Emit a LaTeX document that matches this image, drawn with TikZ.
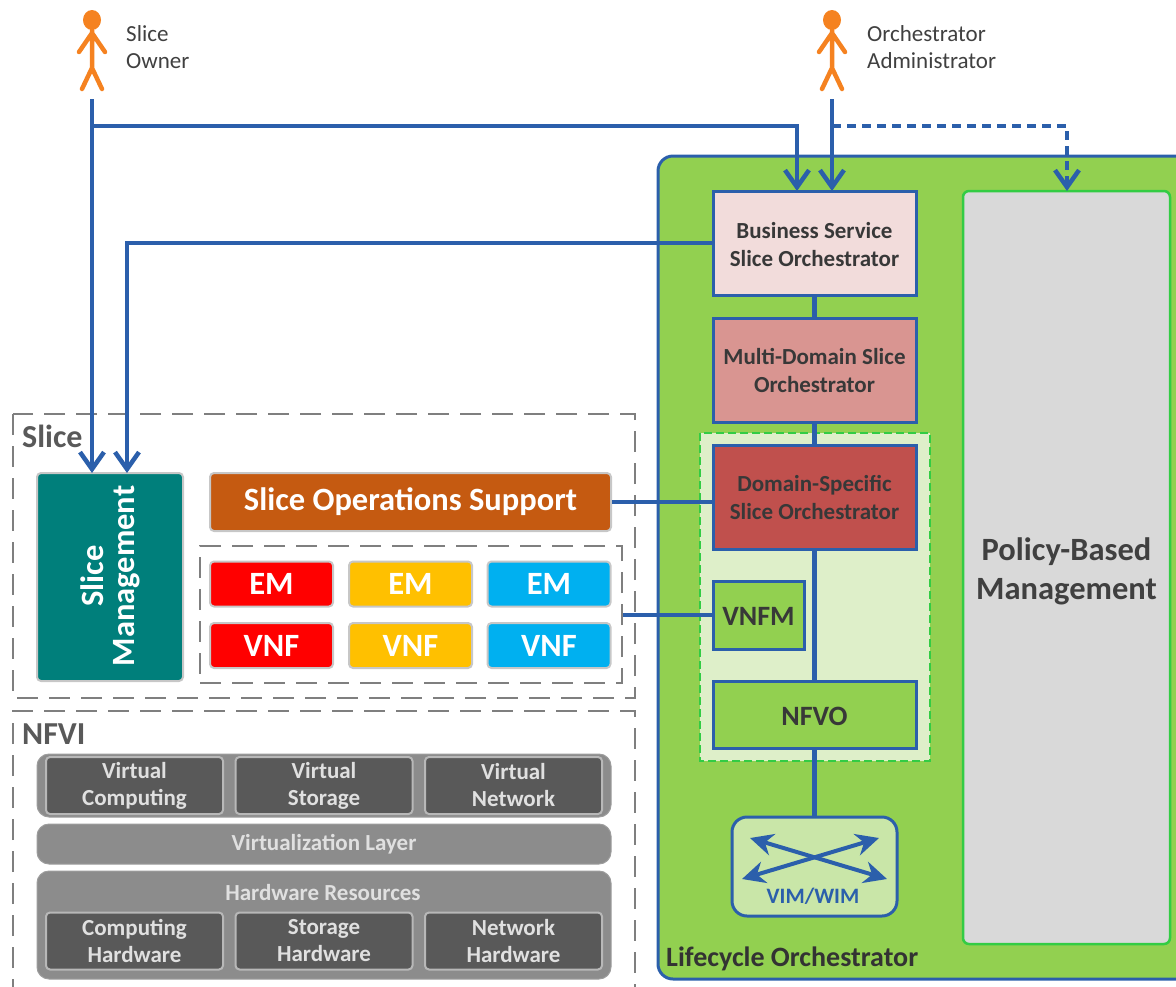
\documentclass[tikz,border=0pt]{standalone}
\usepackage{fontspec}
\setmainfont{Carlito}
\usetikzlibrary{arrows.meta}

\definecolor{linkblue}{HTML}{2B5FAB}
\definecolor{lifegreen}{HTML}{92D050}
\definecolor{palegreen}{HTML}{DEEFC9}
\definecolor{vimgreen}{HTML}{C9E6A8}
\definecolor{bordergreen}{HTML}{33CC44}
\definecolor{actororange}{HTML}{F58220}
\definecolor{dashgray}{HTML}{7F7F7F}
\definecolor{textgray}{HTML}{595959}
\definecolor{layergray}{HTML}{8C8C8C}
\definecolor{cellgray}{HTML}{595959}
\definecolor{businesspink}{HTML}{F2DCDB}
\definecolor{multirose}{HTML}{D99591}
\definecolor{domainred}{HTML}{C0504D}
\definecolor{opsorange}{HTML}{C55A11}
\definecolor{mgmtteal}{HTML}{007F7B}
\definecolor{vnfyellow}{HTML}{FFC000}
\definecolor{vnfblue}{HTML}{00B0F0}

\tikzset{
    link/.style={linkblue, line width=4.5pt},
    linkarrow/.style={link, -{Straight Barb[length=17pt,width=24pt,line width=4.5pt]}},
    orchbox/.style={draw=linkblue, line width=3pt, inner sep=0pt, align=center, text=black!78,
        font=\fontsize{23}{28}\selectfont\bfseries},
    tenant/.style={draw=black!22, line width=2pt, rounded corners=4pt, inner sep=0pt, text=white,
        minimum width=123pt, minimum height=45pt, font=\fontsize{32.5}{34}\selectfont\bfseries},
    layer/.style={fill=layergray, draw=layergray!85, line width=1pt, rounded corners=12pt, inner sep=0pt,
        minimum width=574pt, text=white!88!black, font=\fontsize{23}{26}\selectfont\bfseries},
    cell/.style={fill=cellgray, draw=white!72!black, line width=2pt, rounded corners=4pt, inner sep=0pt,
        minimum width=177pt, minimum height=57pt, align=center, text=white!88!black,
        font=\fontsize{23}{27}\selectfont\bfseries},
    region/.style={draw=dashgray, line width=2pt, dash pattern=on 21pt off 11pt},
    regionname/.style={anchor=west, inner sep=0pt, text=textgray, font=\fontsize{32}{34}\selectfont\bfseries},
    actorname/.style={anchor=west, inner sep=0pt, align=left, text=black!75, font=\fontsize{23}{27}\selectfont},
    mgmtname/.style={rotate=90, inner sep=0pt, text=white, font=\fontsize{32.5}{36}\selectfont\bfseries},
}

\begin{document}
\begin{tikzpicture}[x=1pt, y=-1pt]
    \useasboundingbox (0,0) rectangle (1176,986);
    \clip (0,0) rectangle (1176,986);

    % actors
    \foreach \x in {92,832} {
        \fill[actororange] (\x,20) ellipse (9pt and 10pt);
        \draw[actororange, line width=4.5pt, line cap=round, line join=round]
            (\x-13,52) -- (\x,33) -- (\x+13,52)
            (\x,30) -- (\x,68)
            (\x-10,89) -- (\x,68) -- (\x+10,89);
    }
    \node[actorname] (ownername) at (126,47) {Slice\\Owner};
    \node[actorname] (adminname) at (867,47) {Orchestrator\\Administrator};

    % lifecycle orchestrator
    \filldraw[fill=lifegreen, draw=linkblue, line width=3pt, rounded corners=15pt] (658,156) rectangle (1200,979);
    \node[anchor=west, inner sep=0pt, text=black!80, font=\fontsize{28}{30}\selectfont\bfseries] (lifename) at (666,959) {Lifecycle Orchestrator};
    \node[fill=black!15, draw=bordergreen, line width=2.5pt, rounded corners=6pt, inner sep=0pt, minimum width=207pt, minimum height=753pt] (policy) at (1066.5,567.5) {};
    \node[inner sep=0pt, align=center, text=black!75, font=\fontsize{32.5}{39}\selectfont\bfseries] (policyname) at (1066.5,571.5) {Policy-Based\\Management};
    \filldraw[fill=palegreen, draw=bordergreen, line width=2.5pt, dash pattern=on 8pt off 4pt] (700,433) rectangle (930,761);

    \node[orchbox, fill=businesspink, minimum width=203pt, minimum height=104pt, text height=47pt] (business) at (814.5,243) {Business Service\\Slice Orchestrator};
    \node[orchbox, fill=multirose, minimum width=203pt, minimum height=104pt, text height=45pt] (multidomain) at (814.5,370) {Multi-Domain Slice\\Orchestrator};
    \node[orchbox, fill=domainred, minimum width=203pt, minimum height=104pt, text height=45pt] (domain) at (814.5,497) {Domain-Specific\\Slice Orchestrator};
    \node[orchbox, fill=lifegreen, minimum width=91pt, minimum height=68pt, text height=20pt, font=\fontsize{28}{30}\selectfont\bfseries] (vnfm) at (758.5,615) {VNFM};
    \node[orchbox, fill=lifegreen, minimum width=203pt, minimum height=67pt, text height=23pt, font=\fontsize{28}{30}\selectfont\bfseries] (nfvo) at (814.5,714.5) {NFVO};
    \node[fill=vimgreen, draw=linkblue, line width=3pt, rounded corners=15pt, inner sep=0pt, minimum width=165pt, minimum height=99pt] (vim) at (814.5,866.5) {};
    \node[inner sep=0pt, text=linkblue, font=\fontsize{22}{24}\selectfont\bfseries] (vimname) at (813,896) {VIM/WIM};
    \coordinate (vimnw) at (750,838);
    \coordinate (vimse) at (887,879);
    \coordinate (vimsw) at (742,879);
    \coordinate (vimne) at (879,838);
    \draw[linkblue, line width=4pt, {Stealth[length=23pt,width=22pt]}-{Stealth[length=23pt,width=22pt]}] (vimnw) -- (vimse);
    \draw[linkblue, line width=4pt, {Stealth[length=23pt,width=22pt]}-{Stealth[length=23pt,width=22pt]}] (vimsw) -- (vimne);

    % slice
    \draw[region] (13,414) rectangle (635,698);
    \node[regionname] (slicename) at (22,436) {Slice};
    \node[fill=mgmtteal, draw=black!22, line width=2pt, rounded corners=4pt, inner sep=0pt, minimum width=146pt, minimum height=208pt] (slicemgmt) at (110,577) {};
    \node[mgmtname] (slicemgmtfirst) at (92,576) {Slice};
    \node[mgmtname] (slicemgmtsecond) at (127,576) {Management};
    \node[fill=opsorange, draw=black!22, line width=2pt, rounded corners=4pt, inner sep=0pt, minimum width=401pt, minimum height=58pt,
        text=white, font=\fontsize{32.5}{36}\selectfont\bfseries] (operations) at (410.5,502) {Slice Operations Support};
    \node[draw=dashgray, line width=2pt, dash pattern=on 21pt off 11pt, inner sep=0pt, minimum width=422pt, minimum height=137pt] (functions) at (411,614.5) {};

    \node[tenant, fill=red] (emred) at (271.5,584) {EM};
    \node[tenant, fill=vnfyellow] (emyellow) at (410.5,584) {EM};
    \node[tenant, fill=vnfblue] (emblue) at (549,584) {EM};
    \node[tenant, fill=red] (vnfred) at (271.5,645.5) {VNF};
    \node[tenant, fill=vnfyellow] (vnfamber) at (410.5,645.5) {VNF};
    \node[tenant, fill=vnfblue] (vnfcyan) at (549,645.5) {VNF};

    % nfvi
    \draw[region] (13,1000) -- (13,711) -- (635,711) -- (635,1000);
    \node[regionname] (nfviname) at (22,734) {NFVI};
    \node[layer, minimum height=63pt] (virtual) at (324,785.5) {};
    \node[cell] (vcomputing) at (134.5,785.5) {Virtual\\Computing};
    \node[cell] (vstorage) at (324,785.5) {Virtual\\Storage};
    \node[cell] (vnetwork) at (513.5,785.5) {Virtual\\Network};
    \node[layer, minimum height=40pt] (virtualization) at (324,844) {Virtualization Layer};
    \node[layer, minimum height=108pt] (hardware) at (324,925) {};
    \node[inner sep=0pt, text=white!88!black, font=\fontsize{23}{26}\selectfont\bfseries] (hardwarename) at (323,893) {Hardware Resources};
    \node[cell] (hcomputing) at (134.5,941) {Computing\\Hardware};
    \node[cell] (hstorage) at (324,941) {Storage\\Hardware};
    \node[cell] (hnetwork) at (513.5,941) {Network\\Hardware};

    % connectors
    \coordinate (ownerfoot) at (92,99);
    \coordinate (adminfoot) at (832,99);
    \coordinate (ownerturn) at (92,126);
    \coordinate (adminturn) at (832,126);
    \coordinate (businessleft) at (797,191);
    \coordinate (businessright) at (832,191);
    \coordinate (mgmtleft) at (92,473);
    \coordinate (mgmtright) at (127,473);
    \coordinate (policytop) at (1067,191);
    \draw[linkarrow] (ownerfoot) -- (mgmtleft);
    \draw[linkarrow] (ownerturn) -| (businessleft);
    \draw[linkarrow] (adminfoot) -- (businessright);
    \draw[linkarrow, dash pattern=on 9pt off 6pt] (adminturn) -| (policytop);
    \draw[linkarrow] (business.west) -| (mgmtright);
    \draw[link] (business) -- (multidomain);
    \draw[link] (multidomain) -- (domain);
    \draw[link] (domain) -- (nfvo);
    \draw[link] (nfvo) -- (vim);
    \draw[link] (operations.east) -- (operations.east -| domain.west);
    \draw[link] (functions.east |- vnfm.west) -- (vnfm.west);
\end{tikzpicture}
\end{document}
